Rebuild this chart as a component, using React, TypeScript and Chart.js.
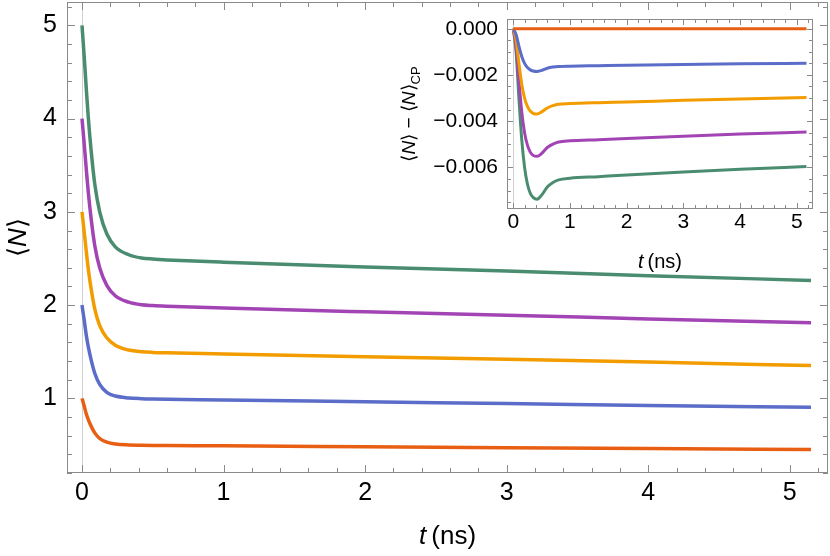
import { useEffect, useRef } from "react";
import { Chart, registerables } from "chart.js";

Chart.register(...registerables);

// ---------- main panel data: <N>(t) ----------
const mainTimes = [0, 0.015, 0.03, 0.045, 0.065, 0.09, 0.125, 0.175, 0.235, 0.33, 0.42, 0.5, 0.6, 1, 2, 3, 4, 5.15];
const nOne = [1, 0.92, 0.835, 0.77, 0.7, 0.63, 0.57, 0.53, 0.51, 0.501, 0.498, 0.496, 0.495, 0.492, 0.482, 0.472, 0.462, 0.452];
const nTwo = [2, 1.845, 1.68, 1.55, 1.41, 1.27, 1.15, 1.065, 1.025, 1.005, 0.997, 0.993, 0.99, 0.984, 0.964, 0.945, 0.925, 0.904];
const nThree = [3, 2.79, 2.58, 2.38, 2.17, 1.96, 1.78, 1.65, 1.57, 1.518, 1.5, 1.493, 1.489, 1.476, 1.446, 1.419, 1.389, 1.352];
const nFour = [4, 3.74, 3.46, 3.2, 2.92, 2.64, 2.4, 2.212, 2.1, 2.032, 2.004, 1.995, 1.988, 1.968, 1.928, 1.892, 1.852, 1.81];
const nFive = [5, 4.675, 4.325, 4.0, 3.65, 3.3, 3.0, 2.765, 2.625, 2.54, 2.505, 2.494, 2.485, 2.46, 2.41, 2.365, 2.315, 2.265];

// ---------- inset data: <N> - <N>_CP, in units of 1e-3 ----------
const insetTimes = [0, 0.05, 0.1, 0.15, 0.2, 0.25, 0.3, 0.35, 0.42, 0.5, 0.6, 0.7, 0.8, 1.0, 1.5, 2, 3, 4, 5.17];
const dOne = [0, 0, 0, 0, 0, 0, 0, 0, 0, 0, 0, 0, 0, 0, 0, 0, 0, 0, 0];
const dTwo = [0, -0.25, -0.75, -1.2, -1.5, -1.68, -1.78, -1.83, -1.85, -1.8, -1.71, -1.66, -1.635, -1.62, -1.6, -1.58, -1.55, -1.52, -1.49];
const dThree = [0, -0.5, -1.5, -2.4, -3.0, -3.36, -3.56, -3.66, -3.69, -3.6, -3.43, -3.33, -3.27, -3.24, -3.2, -3.17, -3.1, -3.04, -2.98];
const dFour = [0, -0.75, -2.25, -3.6, -4.5, -5.04, -5.34, -5.48, -5.52, -5.4, -5.14, -4.99, -4.9, -4.85, -4.8, -4.75, -4.65, -4.56, -4.47];
const dFive = [0, -1.0, -3.0, -4.8, -6.0, -6.72, -7.12, -7.3, -7.38, -7.2, -6.85, -6.65, -6.54, -6.47, -6.4, -6.33, -6.2, -6.08, -5.96];
const insetUnit = 1e-3;

// ---------- series styling ----------
const seriesColors = ["#e85f14", "#5b6dc8", "#f39c00", "#a344b5", "#4a8c70"];

// ---------- ticks ----------
const mainXLabels = [0, 1, 2, 3, 4, 5];
const mainYLabels = [1, 2, 3, 4, 5];
const insetXLabels = [0, 1, 2, 3, 4, 5];
const insetYValues = [0, -0.002, -0.004, -0.006];
const insetYLabels = ["0.000", "\u22120.002", "\u22120.004", "\u22120.006"];

const FONT = '"Liberation Sans", Arial, sans-serif';

type Run = { text: string; italic?: boolean; size: number; dy?: number };

function drawRuns(ctx: CanvasRenderingContext2D, runs: Run[], cx: number, cy: number, rotated: boolean) {
  ctx.save();
  ctx.translate(cx, cy);
  if (rotated) ctx.rotate(-Math.PI / 2);
  ctx.textBaseline = "middle";
  ctx.textAlign = "left";
  ctx.fillStyle = "#000";
  const fontOf = (r: Run) => `${r.italic ? "italic " : ""}${r.size}px ${FONT}`;
  let total = 0;
  for (const r of runs) {
    ctx.font = fontOf(r);
    total += ctx.measureText(r.text).width;
  }
  let x = -total / 2;
  for (const r of runs) {
    ctx.font = fontOf(r);
    ctx.fillText(r.text, x, r.dy || 0);
    x += ctx.measureText(r.text).width;
  }
  ctx.restore();
}

function stepValues(from: number, to: number, step: number) {
  const out: number[] = [];
  const n = Math.round((to - from) / step);
  for (let i = 0; i <= n; i++) out.push(Math.round((from + i * step) * 1e6) / 1e6);
  return out;
}

const framePlugin = {
  id: "frameTicks",
  beforeDatasetsDraw(chart: any) {
    const { ctx, chartArea: a, scales } = chart;
    const x0 = Math.round(scales.x.getPixelForValue(0)) + 0.5;
    ctx.save();
    ctx.strokeStyle = "#d0d0d0";
    ctx.lineWidth = 1;
    ctx.beginPath();
    ctx.moveTo(x0, a.top);
    ctx.lineTo(x0, a.bottom);
    ctx.stroke();
    ctx.restore();
  },
  afterDatasetsDraw(chart: any, _a: any, opts: any) {
    const { ctx, chartArea: a, scales } = chart;
    ctx.save();
    ctx.strokeStyle = opts.color || "#8a8a8a";
    ctx.lineWidth = 1;
    ctx.strokeRect(Math.round(a.left) + 0.5, Math.round(a.top) + 0.5, Math.round(a.right - a.left) - 1, Math.round(a.bottom - a.top) - 1);
    ctx.beginPath();
    for (const t of scales.x.ticks) {
      const px = Math.round(scales.x.getPixelForValue(t.value)) + 0.5;
      const len = t.label !== "" ? opts.major : opts.minor;
      ctx.moveTo(px, a.bottom);
      ctx.lineTo(px, a.bottom - len);
      ctx.moveTo(px, a.top);
      ctx.lineTo(px, a.top + len);
    }
    for (const t of scales.y.ticks) {
      const py = Math.round(scales.y.getPixelForValue(t.value)) + 0.5;
      const len = t.label !== "" ? opts.major : opts.minor;
      ctx.moveTo(a.left, py);
      ctx.lineTo(a.left + len, py);
      ctx.moveTo(a.right, py);
      ctx.lineTo(a.right - len, py);
    }
    ctx.stroke();
    ctx.restore();
  },
};

const titlePlugin = {
  id: "axisTitles",
  afterDraw(chart: any, _a: any, opts: any) {
    const { ctx, chartArea: a } = chart;
    const cx = (a.left + a.right) / 2;
    const cy = (a.top + a.bottom) / 2;
    drawRuns(ctx, opts.xRuns, cx, a.bottom + opts.xOffset, false);
    drawRuns(ctx, opts.yRuns, opts.yX, cy, true);
  },
};

function makeDatasets(xs: number[], ys: number[][], scale: number, width: number) {
  return ys.map((vals, i) => ({
    data: xs.map((x, j) => ({ x, y: vals[j] * scale })),
    borderColor: seriesColors[i],
    borderWidth: width,
    pointRadius: 0,
    fill: false,
    cubicInterpolationMode: "monotone" as const,
  }));
}

function labelFor(values: number[], labels: string[]) {
  return (v: any) => {
    const i = values.findIndex((m) => Math.abs(m - Number(v)) < 1e-9);
    return i < 0 ? "" : labels[i];
  };
}

function fixX(h: number) {
  return (s: any) => {
    s.height = h;
    s.paddingLeft = 0;
    s.paddingRight = 0;
    s.paddingTop = 0;
    s.paddingBottom = 0;
  };
}
function fixY(w: number) {
  return (s: any) => {
    s.width = w;
    s.paddingLeft = 0;
    s.paddingRight = 0;
    s.paddingTop = 0;
    s.paddingBottom = 0;
  };
}

export default function App() {
  const mainRef = useRef<HTMLCanvasElement>(null);
  const insetRef = useRef<HTMLCanvasElement>(null);

  useEffect(() => {
    const mainChart = new Chart(mainRef.current as HTMLCanvasElement, {
      type: "line",
      data: {
        datasets: makeDatasets(mainTimes, [nOne, nTwo, nThree, nFour, nFive], 1, 3.5) as any,
      },
      options: {
        responsive: false,
        animation: false,
        events: [],
        layout: { padding: { top: 2, right: 2, left: 0, bottom: 0 } },
        plugins: {
          legend: { display: false },
          tooltip: { enabled: false },
          frameTicks: { major: 8, minor: 5, color: "#8a8a8a" },
          axisTitles: {
            xRuns: [
              { text: "t", italic: true, size: 26 },
              { text: "\u2009(ns)", size: 26 },
            ],
            xOffset: 64,
            yRuns: [
              { text: "\u27e8", size: 26 },
              { text: "N", italic: true, size: 26 },
              { text: "\u27e9", size: 26 },
            ],
            yX: 19,
          },
        } as any,
        scales: {
          x: {
            type: "linear",
            min: -0.106,
            max: 5.27,
            afterBuildTicks: (s: any) => {
              s.ticks = stepValues(0, 5.2, 0.2).map((value) => ({ value }));
            },
            afterFit: fixX(83),
            grid: { display: false, drawTicks: false },
            border: { display: false },
            ticks: {
              autoSkip: false,
              maxRotation: 0,
              padding: 5,
              color: "#000",
              font: { family: FONT, size: 25 },
              callback: labelFor(mainXLabels, mainXLabels.map(String)),
            },
          },
          y: {
            type: "linear",
            min: 0.2,
            max: 5.25,
            afterBuildTicks: (s: any) => {
              s.ticks = stepValues(0.2, 5.2, 0.2).map((value) => ({ value }));
            },
            afterFit: fixY(67),
            grid: { display: false, drawTicks: false },
            border: { display: false },
            ticks: {
              autoSkip: false,
              padding: 10,
              color: "#000",
              font: { family: FONT, size: 25 },
              callback: labelFor(mainYLabels, mainYLabels.map(String)),
            },
          },
        },
      },
      plugins: [framePlugin, titlePlugin],
    });

    const insetChart = new Chart(insetRef.current as HTMLCanvasElement, {
      type: "line",
      data: {
        datasets: makeDatasets(insetTimes, [dOne, dTwo, dThree, dFour, dFive], insetUnit, 3) as any,
      },
      options: {
        responsive: false,
        animation: false,
        events: [],
        layout: { padding: { top: 9, right: 12, left: 0, bottom: 0 } },
        plugins: {
          legend: { display: false },
          tooltip: { enabled: false },
          frameTicks: { major: 6, minor: 4, color: "#8a8a8a" },
          axisTitles: {
            xRuns: [
              { text: "t", italic: true, size: 20 },
              { text: "\u2009(ns)", size: 20 },
            ],
            xOffset: 53,
            yRuns: [
              { text: "\u27e8", size: 19 },
              { text: "N", italic: true, size: 19 },
              { text: "\u27e9 \u2212 \u27e8", size: 19 },
              { text: "N", italic: true, size: 19 },
              { text: "\u27e9", size: 19 },
              { text: "CP", size: 13, dy: 6 },
            ],
            yX: 30,
          },
        } as any,
        scales: {
          x: {
            type: "linear",
            min: -0.11,
            max: 5.285,
            afterBuildTicks: (s: any) => {
              s.ticks = stepValues(0, 5.2, 0.2).map((value) => ({ value }));
            },
            afterFit: fixX(66),
            grid: { display: false, drawTicks: false },
            border: { display: false },
            ticks: {
              autoSkip: false,
              maxRotation: 0,
              padding: 1,
              color: "#000",
              font: { family: FONT, size: 21 },
              callback: labelFor(insetXLabels, insetXLabels.map(String)),
            },
          },
          y: {
            type: "linear",
            min: -0.0078,
            max: 0.00042,
            afterBuildTicks: (s: any) => {
              s.ticks = stepValues(-0.0075, 0, 0.0005).map((value) => ({ value }));
            },
            afterFit: fixY(127),
            grid: { display: false, drawTicks: false },
            border: { display: false },
            ticks: {
              autoSkip: false,
              padding: 9,
              color: "#000",
              font: { family: FONT, size: 21 },
              callback: labelFor(insetYValues, insetYLabels),
            },
          },
        },
      },
      plugins: [framePlugin, titlePlugin],
    });

    return () => {
      mainChart.destroy();
      insetChart.destroy();
    };
  }, []);

  return (
    <div style={{ position: "absolute", left: 0, top: 0, width: 830, height: 556, background: "#fff" }}>
      <canvas ref={mainRef} width={830} height={556} style={{ position: "absolute", left: 0, top: 0, width: 830, height: 556 }} />
      <canvas ref={insetRef} width={445} height={265} style={{ position: "absolute", left: 380, top: 10, width: 445, height: 265 }} />
    </div>
  );
}
